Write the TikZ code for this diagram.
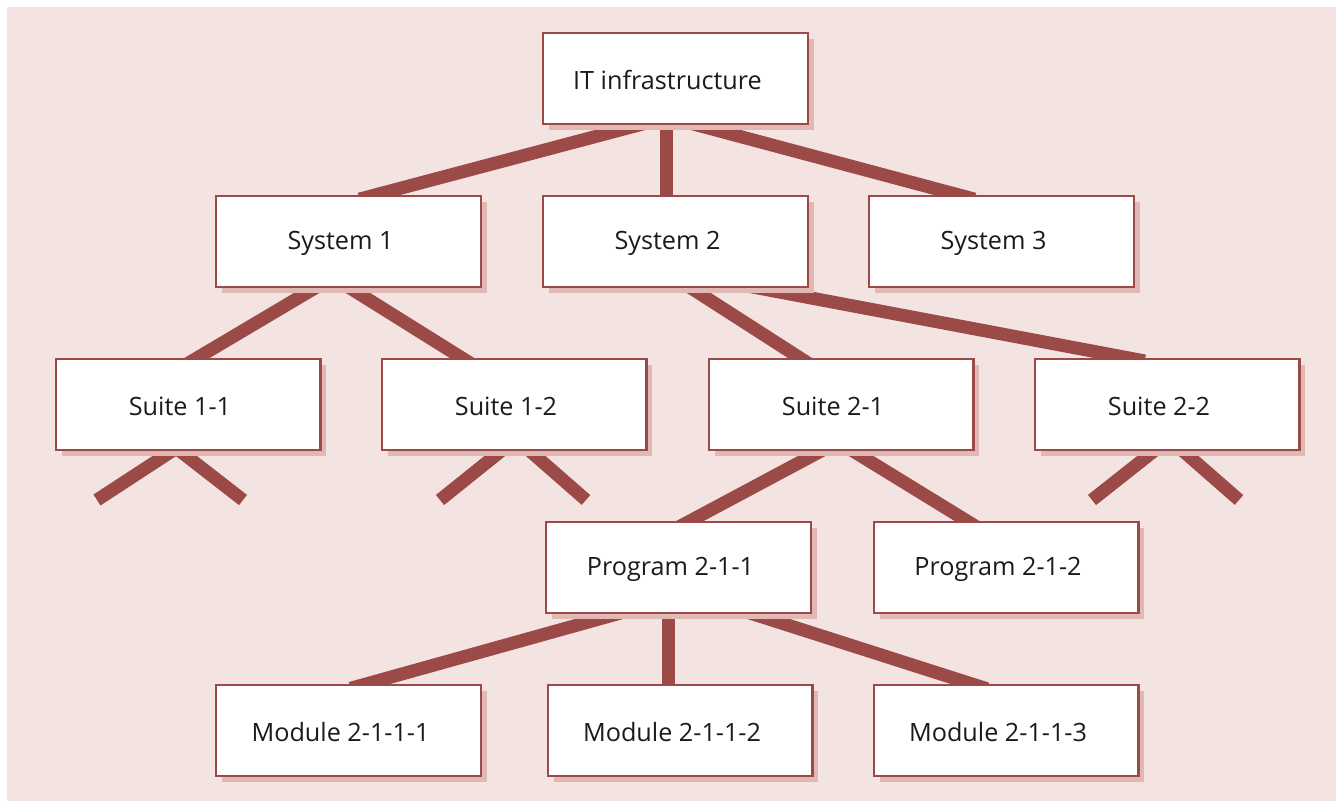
\documentclass[tikz,border=0pt]{standalone}
\usepackage{fontspec}
\setmainfont{Open Sans}
\usetikzlibrary{shadows,backgrounds}
\definecolor{bgc}{HTML}{F3E4E1}
\definecolor{linec}{HTML}{9C4A47}
\definecolor{shadowc}{HTML}{E2B8B4}
\definecolor{txtc}{HTML}{1E1A1B}
\tikzset{
  box/.style={draw=linec, line width=1.2pt, fill=white, rectangle,
    minimum width=132.3pt, minimum height=45.3pt, inner sep=0pt,
    drop shadow={shadow xshift=3pt, shadow yshift=-3pt, fill=shadowc, opacity=1}},
  lbl/.style={font=\fontsize{12.6}{15}\selectfont, text=txtc, xshift=-4pt, yshift=-0.8pt, inner sep=0pt},
  conn/.style={draw=linec, line width=6.5pt, shorten <=-8pt, shorten >=-8pt},
  leg/.style={draw=linec, line width=6.5pt, shorten <=-8pt}
}
\begin{document}
\begin{tikzpicture}[x=0.5pt,y=-0.5pt]
\useasboundingbox (0,0) rectangle (1338,801);
% nodes
\node[box, label={[lbl]center:IT infrastructure}] (it) at (675.5,78.5) {};
\node[box, label={[lbl]center:System 1}] (s1) at (348.5,241.5) {};
\node[box, label={[lbl]center:System 2}] (s2) at (675.5,241.5) {};
\node[box, label={[lbl]center:System 3}] (s3) at (1001.5,241.5) {};
\node[box, label={[lbl]center:Suite 1-1}] (u11) at (188,404.5) {};
\node[box, label={[lbl]center:Suite 1-2}] (u12) at (514,404.5) {};
\node[box, label={[lbl]center:Suite 2-1}] (u21) at (841,404.5) {};
\node[box, label={[lbl]center:Suite 2-2}] (u22) at (1167,404.5) {};
\node[box, label={[lbl]center:Program 2-1-1}] (p1) at (678.5,567.5) {};
\node[box, label={[lbl]center:Program 2-1-2}] (p2) at (1006,567.5) {};
\node[box, label={[lbl]center:Module 2-1-1-1}] (m1) at (348.5,730.5) {};
\node[box, label={[lbl]center:Module 2-1-1-2}] (m2) at (680,730.5) {};
\node[box, label={[lbl]center:Module 2-1-1-3}] (m3) at (1006,730.5) {};
% free leg ends
\coordinate (a1) at ([shift={(-45.5pt,-24.5pt)}]u11.south);
\coordinate (a2) at ([shift={(27.5pt,-24.5pt)}]u11.south);
\coordinate (b1) at ([shift={(-37pt,-24.5pt)}]u12.south);
\coordinate (b2) at ([shift={(36pt,-24.5pt)}]u12.south);
\coordinate (c1) at ([shift={(-37.5pt,-24.5pt)}]u22.south);
\coordinate (c2) at ([shift={(36pt,-24.5pt)}]u22.south);
\begin{scope}[on background layer]
\fill[bgc] (7,7) rectangle (1336,801);
% level 1
\draw[conn] ([xshift=-18.25pt]it.south) -- ([xshift=13.25pt]s1.north);
\draw[conn] ([xshift=-4.5pt]it.south) -- ([xshift=-4.5pt]s2.north);
\draw[conn] ([xshift=10.75pt]it.south) -- ([xshift=-21.25pt]s3.north);
% level 2
\draw[conn] ([xshift=-16.75pt]s1.south) -- ([xshift=4.5pt]u11.north);
\draw[conn] ([xshift=0.75pt]s1.south) -- ([xshift=-26pt]u12.north);
\draw[conn] ([xshift=7.75pt]s2.south) -- ([xshift=-20.5pt]u21.north);
\draw[conn] ([xshift=41.25pt]s2.south) -- ([xshift=-19pt]u22.north);
% legs
\draw[leg] ([xshift=-8pt]u11.south) -- (a1);
\draw[leg] ([xshift=-4pt]u11.south) -- (a2);
\draw[leg] ([xshift=-6.5pt]u12.south) -- (b1);
\draw[leg] ([xshift=8pt]u12.south) -- (b2);
\draw[leg] ([xshift=-6.5pt]u22.south) -- (c1);
\draw[leg] ([xshift=8pt]u22.south) -- (c2);
% level 3
\draw[conn] ([xshift=-10pt]u21.south) -- ([xshift=5.75pt]p1.north);
\draw[conn] ([xshift=6pt]u21.south) -- ([xshift=-19.5pt]p2.north);
% level 4
\draw[conn] ([xshift=-30.75pt]p1.south) -- ([xshift=8.75pt]m1.north);
\draw[conn] ([xshift=-5.25pt]p1.south) -- ([xshift=-6pt]m2.north);
\draw[conn] ([xshift=37.25pt]p1.south) -- ([xshift=-17pt]m3.north);
\end{scope}
\end{tikzpicture}
\end{document}
